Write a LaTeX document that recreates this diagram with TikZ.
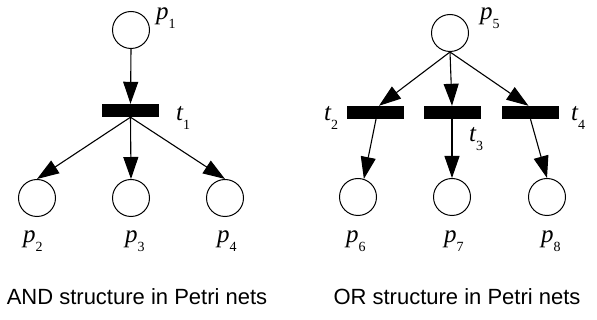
\documentclass[tikz,border=0pt]{standalone}
\usepackage{fontspec}
\setmainfont{Liberation Serif}[ItalicFont={Liberation Serif Italic}]
\newfontfamily\labfont{Liberation Serif Italic}
\newfontfamily\capfont{Liberation Sans}
\usetikzlibrary{arrows.meta}
\newcommand{\plab}[2]{{\labfont\fontsize{25}{25}\selectfont #1}\raisebox{-9pt}{\fontsize{14}{14}\selectfont #2}}
\tikzset{
  place/.style={draw,circle,line width=1pt,minimum size=37pt,inner sep=0pt},
  trans/.style={draw=none,fill=black,rectangle,minimum width=57pt,minimum height=13pt,inner sep=0pt},
  flowarrow/.style={line width=1.1pt,-{Triangle[length=22pt,width=15pt]}},
  lab/.style={anchor=base west,inner sep=0pt},
  captext/.style={anchor=base,inner sep=0pt,font=\capfont\fontsize{22}{22}\selectfont}}
\begin{document}
\begin{tikzpicture}[x=1pt,y=-1pt]
\useasboundingbox (0,0) rectangle (597,320);
% AND structure
\node[place] (p1) at (131,30) {};
\node[trans] (t1) at (130.5,110.5) {};
\node[place] (p2) at (37,198) {};
\node[place] (p3) at (131,198) {};
\node[place] (p4) at (225,198) {};
\draw[flowarrow] (p1.south) -- (t1.north);
\draw[flowarrow] (t1.south) -- (p2.north);
\draw[flowarrow] (t1.south) -- (p3.north);
\draw[flowarrow] (t1.south) -- (p4.north);
\node[lab] (lp1) at (156,19.5) {\plab{p}{1}};
\node[lab] (lt1) at (176,121) {\plab{t}{1}};
\node[lab] (lp2) at (23,243) {\plab{p}{2}};
\node[lab] (lp3) at (125,243) {\plab{p}{3}};
\node[lab] (lp4) at (217,243) {\plab{p}{4}};
\node[captext] (c1) at (137,305) {AND structure in Petri nets};
% OR structure
\node[place] (p5) at (450,33) {};
\node[trans] (t2) at (375,112.5) {};
\node[trans] (t3) at (452,112.5) {};
\node[trans] (t4) at (530.5,112.5) {};
\node[place] (p6) at (358,197) {};
\node[place] (p7) at (452,197) {};
\node[place] (p8) at (547,197) {};
\draw[flowarrow] (p5.south) -- ([xshift=4pt]t2.north);
\draw[flowarrow] (p5.south) -- (t3.north);
\draw[flowarrow] (p5.south) -- ([xshift=-2pt]t4.north);
\draw[flowarrow] ([xshift=1pt]t2.south) -- (p6.72);
\draw[flowarrow] (t3.south) -- (p7.north);
\draw[flowarrow] (t4.south) -- (p8.north);
\node[lab] (lp5) at (480,19.5) {\plab{p}{5}};
\node[lab] (lt2) at (324,121) {\plab{t}{2}};
\node[lab] (lt3) at (469,142) {\plab{t}{3}};
\node[lab] (lt4) at (571,121) {\plab{t}{4}};
\node[lab] (lp6) at (346,243) {\plab{p}{6}};
\node[lab] (lp7) at (444,243) {\plab{p}{7}};
\node[lab] (lp8) at (541,243) {\plab{p}{8}};
\node[captext] (c2) at (457,305) {OR structure in Petri nets};
\end{tikzpicture}
\end{document}
